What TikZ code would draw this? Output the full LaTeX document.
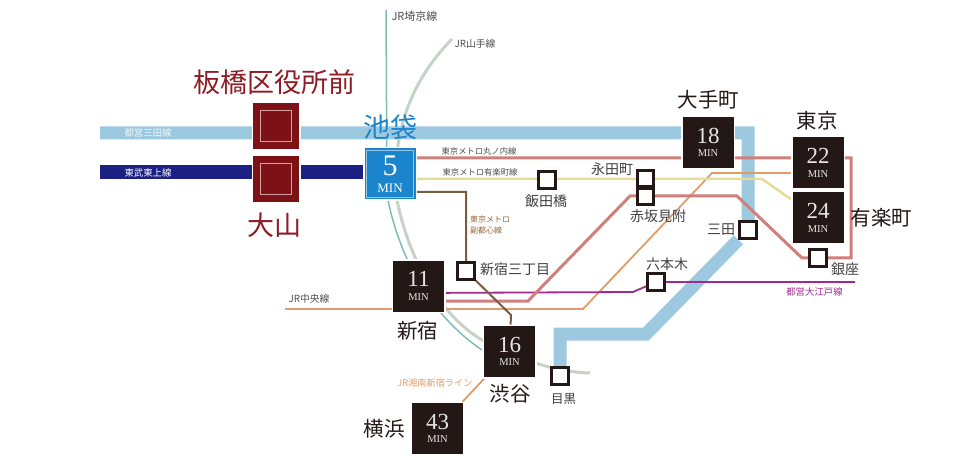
\documentclass[tikz,border=0pt]{standalone}
\usepackage{fontspec}
\setmainfont{Noto Sans CJK JP}
\newfontfamily\numfont{Liberation Serif}
\usetikzlibrary{backgrounds}
\definecolor{boxdark}{HTML}{231815}
\definecolor{stopred}{HTML}{7C1116}
\definecolor{labelred}{HTML}{8C1D24}
\definecolor{ikeblue}{HTML}{1A84CC}
\definecolor{mitablue}{HTML}{9CC8E0}
\definecolor{tobunavy}{HTML}{1C1F84}
\definecolor{marupink}{HTML}{D0807C}
\definecolor{yurayellow}{HTML}{E6DC98}
\definecolor{chuoorange}{HTML}{DF9C68}
\definecolor{oedopurple}{HTML}{A02A90}
\definecolor{fukubrown}{HTML}{7A5C40}
\definecolor{saikyoteal}{HTML}{7FBDB8}
\definecolor{yamagrey}{HTML}{C6D3C6}
\newcommand{\mintext}[1]{{\numfont\fontsize{23}{17}\selectfont #1}\\[1.5pt]{\numfont\fontsize{10.5}{8}\selectfont MIN}}

\begin{document}
\begin{tikzpicture}[x=1pt,y=-1pt]
\tikzset{minbox/.style={fill=boxdark, draw=white, line width=1.5pt, minimum size=52.5pt, inner sep=0pt, align=center, text=white!90!black},
  redstop/.style={fill=stopred, draw=white, line width=1.5pt, minimum size=47.5pt},
  redinner/.style={draw=red!20!stopred!40!white, line width=0.8pt, minimum size=31pt},
  smallstop/.style={fill=white, draw=boxdark, line width=3pt, minimum size=16.5pt, inner sep=0pt},
  bignamered/.style={text=labelred, font=\fontsize{27}{27}\selectfont, inner sep=0pt},
  bigname/.style={text=boxdark, font=\fontsize{20.5}{21}\selectfont, inner sep=0pt},
  stopname/.style={text=black!75, font=\fontsize{14}{14}\selectfont, inner sep=0pt},
  linename/.style={text=black!70, font=\fontsize{8.3}{8.5}\selectfont, inner sep=0pt},
  jrname/.style={text=black!70, font=\fontsize{9.8}{10}\selectfont, inner sep=0pt},
  mitaline/.style={draw=mitablue, line width=13pt},
  tobuline/.style={draw=tobunavy, line width=14pt},
  maruline/.style={draw=marupink, line width=3pt},
  yuraline/.style={draw=yurayellow, line width=2.5pt},
  chuoline/.style={draw=chuoorange, line width=1.8pt},
  oedoline/.style={draw=oedopurple, line width=1.8pt},
  fukuline/.style={draw=fukubrown, line width=2pt},
  saikyoline/.style={draw=saikyoteal, line width=1.5pt},
  yamaline/.style={draw=yamagrey, line width=3pt}}
\useasboundingbox (0,0) rectangle (980,473);
% stations
\node[redstop] (itabashi) at (276,126) {};
\node[redinner] (itabashiin) at (itabashi) {};
\node[redstop] (oyama) at (276,179) {};
\node[redinner] (oyamain) at (oyama) {};
\node[minbox, fill=ikeblue, text=white] (ikebukuro) at (390,174) {{\numfont\fontsize{30}{21}\selectfont 5}\\[5pt]{\numfont\fontsize{13}{9}\selectfont MIN}};
\node[draw=white!55!ikeblue, line width=0.6pt, minimum size=47pt] (ikebukuroin) at (ikebukuro) {};
\node[minbox] (otemachi) at (708,142.5) {\mintext{18}};
\node[minbox] (tokyo) at (818,163) {\mintext{22}};
\node[minbox] (yurakucho) at (818,218) {\mintext{24}};
\node[minbox] (shinjuku) at (418.5,286) {\mintext{11}};
\node[minbox] (shibuya) at (509.5,351.5) {\mintext{16}};
\node[minbox] (yokohama) at (437.5,428.5) {\mintext{43}};
\node[smallstop] (iidabashi) at (547,180) {};
\node[smallstop] (nagatacho) at (645.5,178.5) {};
\node[smallstop] (akasaka) at (645.5,196.5) {};
\node[smallstop] (mita) at (748,230) {};
\node[smallstop] (ginza) at (818,258) {};
\node[smallstop] (roppongi) at (656,282) {};
\node[smallstop] (shin3) at (466,271) {};
\node[smallstop] (meguro) at (560,376) {};
% way points
\coordinate (mitaW) at (100,133);
\coordinate (mitaA) at (748,133);
\coordinate (mitaB) at (646,334);
\coordinate (mitaC) at (560,334);
\coordinate (tobuW) at (100,172);
\coordinate (maruA) at (390,158);
\coordinate (maruB) at (851,158);
\coordinate (maruC) at (851,258);
\coordinate (maruD) at (802,258);
\coordinate (maruE) at (737,196);
\coordinate (maruF) at (630,196);
\coordinate (maruG) at (528,301);
\coordinate (yuraA) at (390,179);
\coordinate (yuraB) at (762,179);
\coordinate (chuoW) at (285,309);
\coordinate (chuoA) at (583,309);
\coordinate (chuoB) at (712,173);
\coordinate (oedoA) at (418,293);
\coordinate (oedoB) at (633,292);
\coordinate (oedoE) at (855,282);
\coordinate (fukuA) at (390,192);
\coordinate (fukuB) at (466,192);
\coordinate (fukuC) at (511,315);
\coordinate (saikyoN) at (386,10);
\coordinate (saikyoA) at (387,195);
\coordinate (yamaN) at (452,39);
\coordinate (yamaA) at (396,195);
\coordinate (yamaE) at (590,373);
% lines
\begin{pgfonlayer}{background}
\draw[yamaline] (yamaN) .. controls (412,80) and (392,130) .. (yamaA) .. controls (406,250) and (435,312) .. (482,340) .. controls (510,355) and (550,372) .. (yamaE);
\draw[saikyoline] (saikyoN) -- (saikyoA) .. controls (398,255) and (430,315) .. (482,350);
\draw[mitaline] (mitaW) -- (mitaA) -- (mita) -- (mitaB) -- (mitaC) -- (meguro);
\draw[tobuline] (tobuW) -- (ikebukuro.center |- tobuW);
\draw[chuoline] (chuoW) -- (chuoA) -- (chuoB) -- (tokyo.center |- chuoB);
\draw[chuoline] (shibuya) -- (yokohama);
\draw[yuraline] (yuraA) -- (yuraB) -- (yurakucho);
\draw[oedoline] (oedoA) -- (oedoB) -- (roppongi) -- (oedoE);
\draw[maruline] (maruA) -- (maruB) -- (maruC) -- (maruD) -- (maruE) -- (maruF) -- (maruG) -- (shinjuku.center |- maruG);
\draw[fukuline] (fukuA) -- (fukuB) -- (shin3) -- (fukuC) -- (shibuya);
\end{pgfonlayer}
% big names
\node[bignamered] (itabashiname) at (274.5,82) {板橋区役所前};
\node[bignamered] (oyamaname) at (274,225) {大山};
\node[bignamered, text=ikeblue] (ikebukuroname) at (390.5,127) {池袋};
\node[bigname] (otemachiname) at (708.5,100) {大手町};
\node[bigname] (tokyoname) at (817,121) {東京};
\node[bigname] (yurakuchoname) at (881.5,218) {有楽町};
\node[bigname] (shinjukuname) at (417.5,331) {新宿};
\node[bigname] (shibuyaname) at (510,394) {渋谷};
\node[bigname] (yokohamaname) at (384,429) {横浜};
% small names
\node[stopname] (iidabashiname) at (546,201) {飯田橋};
\node[stopname] (nagatachoname) at (612,169) {永田町};
\node[stopname] (akasakaname) at (658,216) {赤坂見附};
\node[stopname] (mitaname) at (721,230) {三田};
\node[stopname] (ginzaname) at (845,269) {銀座};
\node[stopname] (roppinginame) at (667,264) {六本木};
\node[stopname] (shin3name) at (515,269) {新宿三丁目};
\node[stopname, font=\fontsize{12.5}{13}\selectfont] (meguroname) at (563.5,399) {目黒};
% line names
\node[jrname, font=\fontsize{11}{11}\selectfont] (saikyoname) at (414.5,16) {JR埼京線};
\node[jrname] (yamaname) at (475,44) {JR山手線};
\node[jrname] (chuoname) at (309,299) {JR中央線};
\node[jrname, text=chuoorange, font=\fontsize{9.2}{10}\selectfont] (shonanname) at (435,383) {JR湘南新宿ライン};
\node[linename] (maruname) at (479,151) {東京メトロ丸ノ内線};
\node[linename] (yuraname) at (480,172) {東京メトロ有楽町線};
\node[linename, text=fukubrown!80!orange, align=left, font=\fontsize{8}{11}\selectfont] (fukuname) at (490,224.5) {東京メトロ\\副都心線};
\node[linename, text=white!85!mitablue, font=\fontsize{9.4}{10}\selectfont] (mitalinename) at (148,133) {都営三田線};
\node[linename, text=white, font=\fontsize{9.4}{10}\selectfont] (tobuname) at (148,173) {東武東上線};
\node[linename, text=oedopurple, font=\fontsize{9.4}{10}\selectfont] (oedoname) at (814.5,292) {都営大江戸線};
\end{tikzpicture}
\end{document}
